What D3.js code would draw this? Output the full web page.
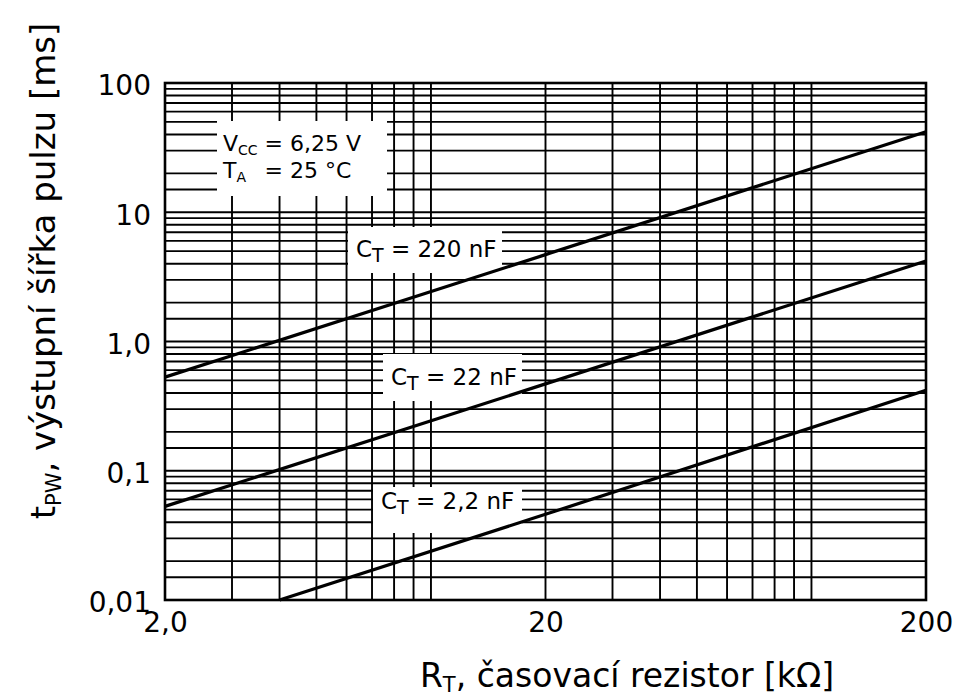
<!DOCTYPE html>
<html>
<head>
<meta charset="utf-8">
<script src="https://cdn.jsdelivr.net/npm/d3@7"></script>
<style>
  html, body { margin: 0; padding: 0; background: #fff; }
  svg { display: block; font-family: "DejaVu Sans", Verdana, sans-serif; }
</style>
</head>
<body>
<svg id="chart" width="961" height="700"></svg>
<script>
// Timing resistor R_T [kΩ] vs. output pulse width t_PW [ms], one line per C_T
const seriesNames = ["220 nF", "22 nF", "2,2 nF"];
const seriesR = [
  [2, 20, 200],
  [2, 20, 200],
  [4, 20, 200]
];
const seriesT = [
  [0.53, 4.7, 42],
  [0.053, 0.47, 4.2],
  [0.01, 0.046, 0.42]
];
const xTickValues = [2, 20, 200];
const xTickLabels = ["2,0", "20", "200"];
const yTickValues = [0.01, 0.1, 1, 10, 100];
const yTickLabels = ["0,01", "0,1", "1,0", "10", "100"];
const yExtraGrid = [0.015, 0.15, 1.5, 15];

const svg = d3.select("#chart");
const plotL = 165, plotR = 926, plotT = 83, plotB = 600;

const x = d3.scaleLog().domain([2, 200]).range([plotL, plotR]);
const y = d3.scaleLog().domain([0.01, 100]).range([plotB, plotT]);

// grid
const grid = svg.append("g").attr("stroke", "#000").attr("stroke-width", 1.9);
grid.selectAll("line.v").data(x.ticks()).join("line")
  .attr("class", "v")
  .attr("x1", d => x(d)).attr("x2", d => x(d))
  .attr("y1", plotT).attr("y2", plotB);
grid.selectAll("line.h").data(y.ticks().concat(yExtraGrid)).join("line")
  .attr("class", "h")
  .attr("x1", plotL).attr("x2", plotR)
  .attr("y1", d => y(d)).attr("y2", d => y(d));

// white label boxes that mask the grid
const boxes = [
  { x: 217, y: 121, w: 170, h: 75 },
  { x: 348, y: 227, w: 154, h: 46 },
  { x: 383, y: 354, w: 139, h: 47 },
  { x: 373, y: 487, w: 149, h: 46 }
];
svg.append("g").selectAll("rect").data(boxes).join("rect")
  .attr("x", d => d.x).attr("y", d => d.y)
  .attr("width", d => d.w).attr("height", d => d.h)
  .attr("fill", "#fff");

// frame
svg.append("rect")
  .attr("x", plotL).attr("y", plotT)
  .attr("width", plotR - plotL).attr("height", plotB - plotT)
  .attr("fill", "none").attr("stroke", "#000").attr("stroke-width", 2.6);

// curves
const line = d3.line().x(d => x(d[0])).y(d => y(d[1]));
svg.append("g").selectAll("path").data(seriesR.map((rs, i) => rs.map((r, j) => [r, seriesT[i][j]])))
  .join("path")
  .attr("d", line)
  .attr("fill", "none").attr("stroke", "#000").attr("stroke-width", 3.2);

// axes (labels only)
const xAxis = d3.axisBottom(x).tickValues(xTickValues)
  .tickFormat((d, i) => xTickLabels[i]).tickSize(0).tickPadding(12);
const gx = svg.append("g").attr("transform", `translate(0,${plotB})`).call(xAxis);
const yAxis = d3.axisLeft(y).tickValues(yTickValues)
  .tickFormat((d, i) => yTickLabels[i]).tickSize(0).tickPadding(14);
const gy = svg.append("g").attr("transform", `translate(${plotL},3)`).call(yAxis);
[gx, gy].forEach(g => {
  g.select(".domain").remove();
  g.selectAll("text").attr("font-family", "DejaVu Sans, Verdana, sans-serif")
    .attr("font-size", 28).attr("fill", "#000");
});

// condition box
const cond = svg.append("text").attr("x", 223).attr("y", 151).attr("font-size", 22);
cond.append("tspan").text("V");
cond.append("tspan").attr("font-size", 14).attr("dy", 4).text("CC");
cond.append("tspan").attr("dy", -4).text(" = 6,25 V");
const eqX = cond.node().getStartPositionOfChar(4).x;
const cond2 = svg.append("text").attr("x", 223).attr("y", 178).attr("font-size", 22);
cond2.append("tspan").text("T");
cond2.append("tspan").attr("font-size", 14).attr("dy", 4).text("A");
svg.append("text").attr("x", eqX).attr("y", 178).attr("font-size", 22).text("= 25 °C");

// capacitor labels
const capPos = [[356, 257], [391, 385], [381, 509]];
seriesNames.forEach((name, i) => {
  const t = svg.append("text").attr("x", capPos[i][0]).attr("y", capPos[i][1]).attr("font-size", 23);
  t.append("tspan").text("C");
  t.append("tspan").attr("font-size", 19).attr("dy", 5).text("T");
  t.append("tspan").attr("dy", -5).text(" = " + name);
});

// axis titles
const xt = svg.append("text").attr("x", 627).attr("y", 687)
  .attr("text-anchor", "middle").attr("font-size", 33);
xt.append("tspan").text("R");
xt.append("tspan").attr("font-size", 21).attr("dy", 5).text("T");
xt.append("tspan").attr("dy", -5).text(", časovací rezistor [kΩ]");

const yt = svg.append("text")
  .attr("transform", "translate(55,271) rotate(-90)")
  .attr("text-anchor", "middle").attr("font-size", 34);
yt.append("tspan").text("t");
yt.append("tspan").attr("font-size", 21).attr("dy", 6).text("PW");
yt.append("tspan").attr("dy", -6).text(", výstupní šířka pulzu [ms]");
</script>
</body>
</html>
